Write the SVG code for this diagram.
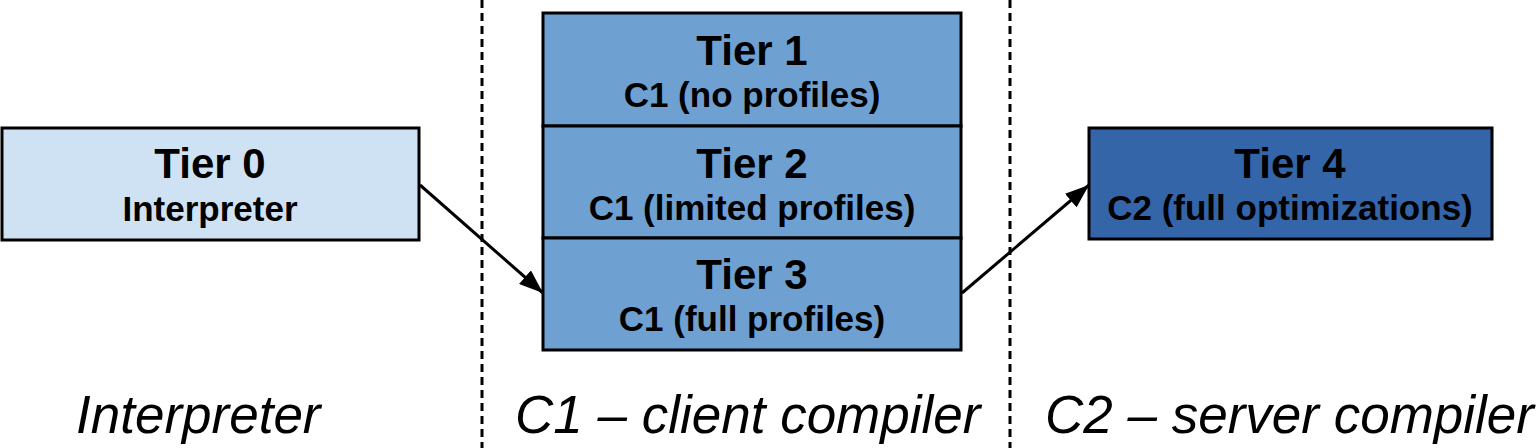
<svg xmlns="http://www.w3.org/2000/svg" width="1538" height="448" viewBox="0 0 1538 448">
<style>
.box{stroke:#000;stroke-width:3}
.t{font-family:"Liberation Sans",Arial,sans-serif;font-weight:bold;font-size:42px;text-anchor:middle;fill:#000}
.s{font-family:"Liberation Sans",Arial,sans-serif;font-weight:bold;font-size:35px;text-anchor:middle;fill:#000}
.lbl{font-family:"Liberation Sans",Arial,sans-serif;font-style:italic;font-size:53px;fill:#000}
.dash{stroke:#000;stroke-width:3;stroke-dasharray:8 5;fill:none}
.conn{stroke:#000;stroke-width:3;fill:none}
</style>
<defs>
<marker id="ah" viewBox="0 0 10 10" refX="10" refY="5" markerWidth="24" markerHeight="18" orient="auto" markerUnits="userSpaceOnUse" preserveAspectRatio="none">
<path d="M0,0 L10,5 L0,10 z" fill="#000"/>
</marker>
</defs>
<rect width="1538" height="448" fill="#fff"/>
<g id="dividers">
<line class="dash" x1="482" y1="0" x2="482" y2="448"/>
<line class="dash" x1="1010" y1="0" x2="1010" y2="448"/>
</g>
<g id="tier0">
<rect class="box" x="2" y="128" width="417" height="112" fill="#cfe2f3"/>
<text class="t" x="210" y="178">Tier 0</text>
<text class="s" x="210" y="221">Interpreter</text>
</g>
<g id="tier1">
<rect class="box" x="543" y="13" width="418" height="113" fill="#6fa0d2"/>
<text class="t" x="752" y="65">Tier 1</text>
<text class="s" x="752" y="107">C1 (no profiles)</text>
</g>
<g id="tier2">
<rect class="box" x="543" y="126" width="418" height="112" fill="#6fa0d2"/>
<text class="t" x="752" y="178">Tier 2</text>
<text class="s" x="752" y="220">C1 (limited profiles)</text>
</g>
<g id="tier3">
<rect class="box" x="543" y="238" width="418" height="112" fill="#6fa0d2"/>
<text class="t" x="752" y="289">Tier 3</text>
<text class="s" x="752" y="331">C1 (full profiles)</text>
</g>
<g id="tier4">
<rect class="box" x="1089" y="128" width="403" height="111" fill="#3465a8"/>
<text class="t" x="1290" y="178">Tier 4</text>
<text class="s" x="1290" y="220">C2 (full optimizations)</text>
</g>
<g id="connectors">
<line class="conn" x1="420" y1="185" x2="543" y2="293" marker-end="url(#ah)"/>
<line class="conn" x1="962" y1="293" x2="1089" y2="185" marker-end="url(#ah)"/>
</g>
<g id="labels">
<text class="lbl" x="76" y="433">Interpreter</text>
<text class="lbl" x="515" y="433">C1 – client compiler</text>
<text class="lbl" x="1045" y="433">C2 – server compiler</text>
</g>
</svg>
